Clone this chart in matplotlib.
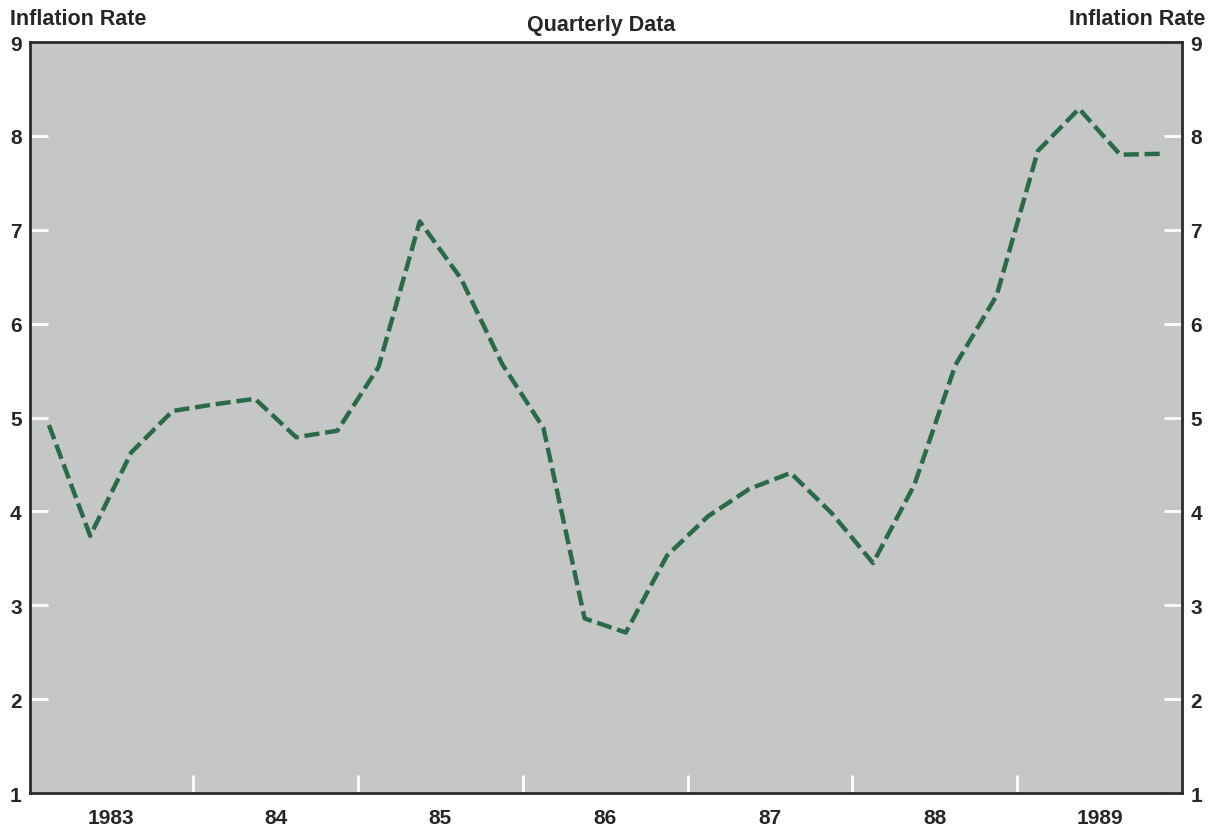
import matplotlib
matplotlib.use("Agg")
import matplotlib.pyplot as plt
import numpy as np

plt.rcParams['font.family'] = ['Liberation Sans', 'DejaVu Sans']
plt.rcParams['font.weight'] = 'bold'

# Quarterly inflation rate, 1983 Q1 .. 1989 Q4
years = [1983, 1984, 1985, 1986, 1987, 1988, 1989]
year_labels = ["1983", "84", "85", "86", "87", "88", "1989"]
rate = [4.92, 3.74, 4.63, 5.07, 5.14, 5.20, 4.79, 4.86,
        5.54, 7.09, 6.48, 5.57, 4.89, 2.86, 2.71, 3.53,
        3.95, 4.24, 4.41, 3.98, 3.45, 4.28, 5.56, 6.30,
        7.84, 8.29, 7.80, 7.81]
yticks = [1, 2, 3, 4, 5, 6, 7, 8, 9]

# place each quarter in the middle of its slot
quarters = np.array([y + (q + 0.5) / 4 for y in years for q in range(4)])

ink = '#262626'

fig = plt.figure(figsize=(12.1, 8.28), dpi=100)
ax = fig.add_axes([0.0248, 0.0410, 0.9521, 0.9070])
ax.set_facecolor('#c5c6c6')

ax.plot(quarters, rate, color='#2b6a48', lw=3.2, dashes=(3.4, 1.3),
        dash_capstyle='butt', zorder=3)

ax.set_xlim(years[0] + 0.01, years[-1] + 1)
ax.set_ylim(1, 9)

# year boundaries as white ticks, labels centred on each year
ax.set_xticks(years[1:])
ax.set_xticklabels([])
ax.set_xticks([y + 0.5 for y in years], minor=True)
ax.set_xticklabels(year_labels, minor=True, fontsize=15, fontweight='bold',
                   color=ink)
ax.tick_params(axis='x', which='major', direction='in', length=13, width=2,
               color='white')
ax.tick_params(axis='x', which='minor', length=0, pad=11)

ax.set_yticks(yticks)
ax.set_yticklabels([str(v) for v in yticks], fontsize=15, fontweight='bold',
                   color=ink)
ax.tick_params(axis='y', direction='in', length=13, width=2, color='white',
               left=True, right=True, labelleft=True, labelright=True, pad=6)

for side in ['left', 'right', 'top', 'bottom']:
    ax.spines[side].set_color('#2a2a2a')
    ax.spines[side].set_linewidth(2)

fig.text(0.008, 0.977, "Inflation Rate", fontsize=15.5, fontweight='bold',
         ha='left', va='center', color=ink)
fig.text(0.996, 0.977, "Inflation Rate", fontsize=15.5, fontweight='bold',
         ha='right', va='center', color=ink)
fig.text(0.497, 0.969, "Quarterly Data", fontsize=15.5, fontweight='bold',
         ha='center', va='center', color=ink)

fig.savefig("out.png", dpi=100, facecolor='white')
